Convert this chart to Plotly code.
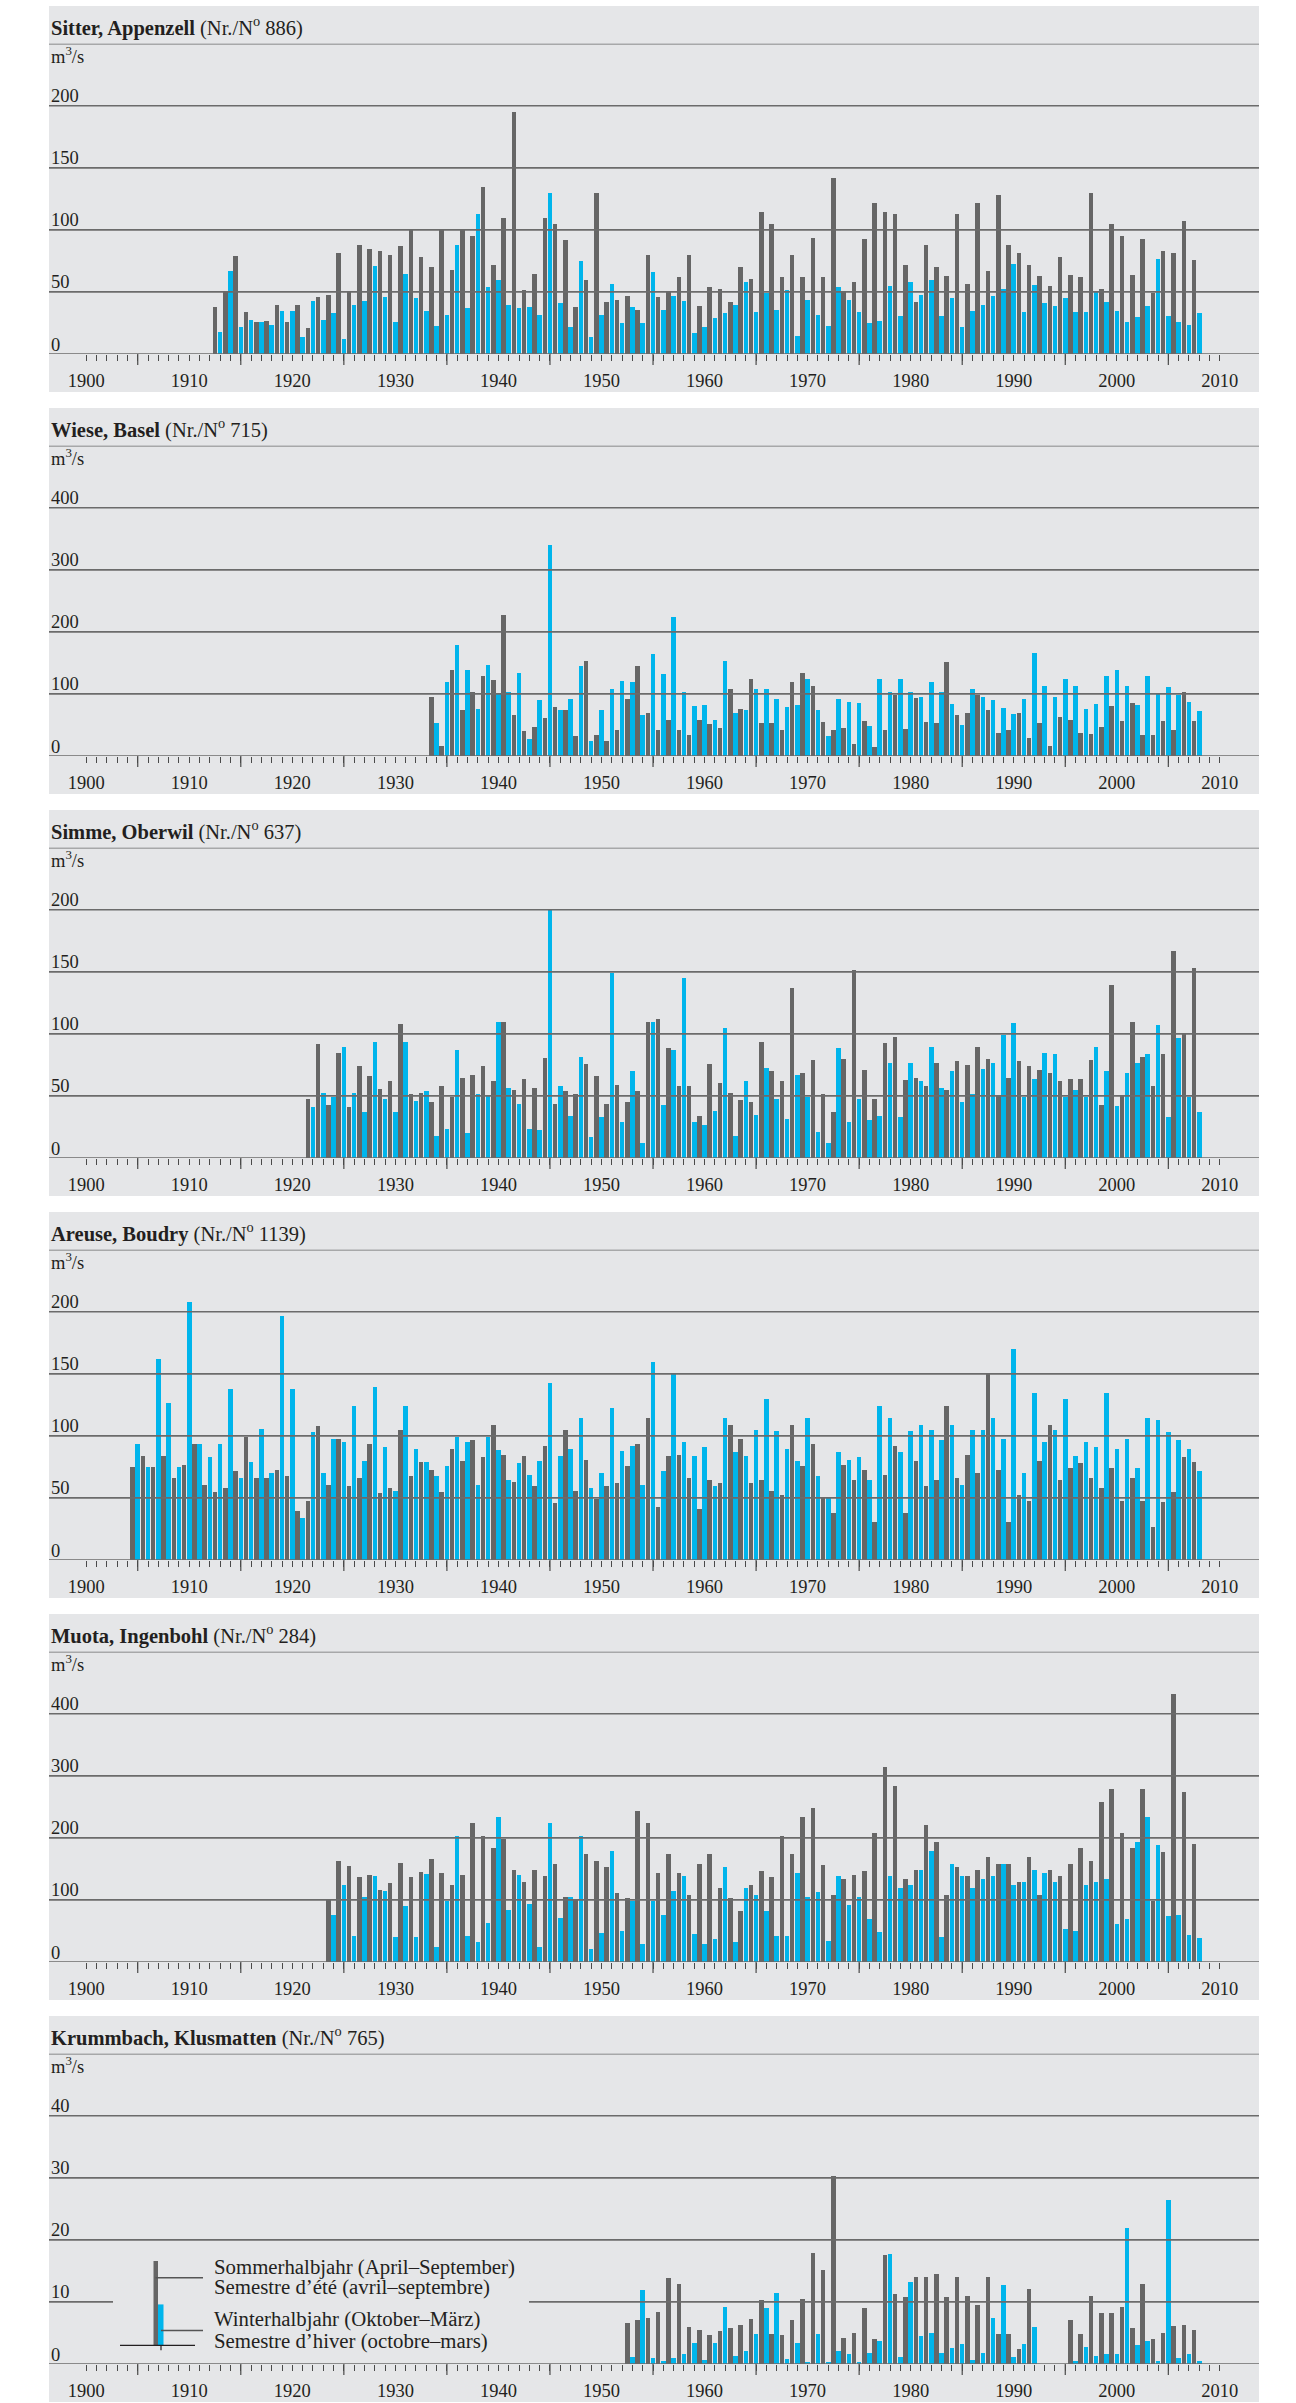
import plotly.graph_objects as go

# ---------------- data (m3/s), one value per hydrological year ----------------
# summer = April-September of the year, winter = October of the year to March of next
sitter_start = 1912
sitter_summer = [38, 51, 79, 34, 26, 27, 40, 26,
                 40, 21, 46, 48, 82, 50, 88, 85, 83, 80,
                 87, 100, 78, 70, 100, 68, 100, 95, 135, 72,
                 110, 195, 52, 65, 110, 105, 92, 38, 60, 130,
                 42, 44, 47, 36, 80, 46, 50, 62, 80, 39,
                 54, 53, 42, 70, 61, 115, 105, 62, 80, 62,
                 94, 62, 142, 50, 58, 93, 122, 115, 113, 72,
                 42, 88, 70, 63, 113, 57, 122, 67, 128, 88,
                 82, 72, 63, 55, 78, 64, 62, 130, 53, 105,
                 95, 64, 93, 49, 83, 82, 107, 76]
sitter_winter = [18, 67, 22, 28, 26, 24, 35, 35,
                 14, 43, 28, 33, 12, 40, 43, 71, 46, 26,
                 65, 45, 35, 23, 32, 88, 37, 113, 54, 60,
                 40, 37, 38, 32, 130, 41, 22, 75, 14, 32,
                 57, 25, 38, 25, 66, 36, 47, 43, 17, 22,
                 29, 33, 40, 58, 34, 49, 36, 52, 15, 44,
                 32, 23, 54, 44, 34, 25, 27, 55, 31, 58,
                 48, 60, 31, 45, 22, 35, 40, 47, 53, 73,
                 34, 56, 41, 39, 45, 34, 34, 50, 42, 35,
                 26, 30, 39, 77, 31, 26, 24, 33]

wiese_start = 1933
wiese_summer = [95, 17, 139, 74, 104, 129, 123,
                227, 66, 41, 48, 61, 79, 74, 33, 154, 35,
                25, 42, 92, 145, 70, 42, 59, 43, 34, 59,
                52, 45, 109, 76, 124, 53, 53, 43, 119, 134,
                114, 56, 42, 46, 20, 57, 15, 43, 99, 44,
                94, 55, 53, 152, 66, 70, 99, 74, 37, 42,
                70, 29, 53, 17, 63, 59, 38, 36, 48, 81,
                57, 86, 34, 34, 57, 42, 103, 57]
wiese_winter = [53, 119, 180, 139, 76, 147, 100,
                104, 134, 28, 91, 341, 74, 92, 145, 24, 74,
                109, 122, 119, 67, 165, 132, 225, 104, 81, 82,
                58, 154, 70, 75, 109, 109, 92, 80, 83, 124,
                74, 33, 92, 88, 86, 49, 124, 104, 124, 104,
                96, 119, 104, 84, 51, 109, 95, 91, 78, 68,
                92, 167, 114, 96, 124, 114, 76, 84, 129, 139,
                114, 83, 129, 100, 111, 99, 88, 73]

simme_start = 1921
simme_summer = [48, 92, 43, 85, 41, 74, 66, 56, 62,
                108, 52, 53, 45, 58, 49, 65, 67, 74, 62,
                110, 55, 64, 57, 81, 44, 54, 52, 76, 66,
                44, 59, 45, 54, 110, 112, 89, 58, 58, 34,
                76, 61, 53, 47, 45, 94, 70, 62, 137, 69,
                79, 52, 37, 80, 152, 71, 48, 93, 98, 63,
                65, 58, 77, 55, 78, 75, 90, 80, 51, 65,
                78, 74, 71, 69, 62, 64, 64, 79, 43, 140,
                51, 110, 82, 58, 84, 167, 101, 153]
simme_winter = [41, 53, 49, 90, 53, 37, 94, 48, 37,
                94, 46, 54, 18, 24, 87, 20, 52, 51, 110,
                57, 44, 24, 23, 200, 58, 34, 82, 17, 33,
                149, 29, 70, 12, 110, 43, 87, 145, 29, 27,
                38, 105, 18, 62, 35, 73, 48, 32, 67, 49,
                21, 12, 89, 29, 48, 31, 34, 77, 33, 77,
                62, 90, 57, 70, 45, 52, 72, 77, 99, 109,
                49, 64, 85, 84, 49, 55, 49, 90, 70, 42,
                69, 77, 84, 107, 33, 97, 49, 37]

areuse_start = 1904
areuse_summer = [75, 84, 75, 84, 66, 77,
                 94, 61, 55, 58, 72, 99, 66, 66, 73, 68,
                 40, 48, 108, 61, 98, 60, 66, 94, 54, 58,
                 105, 68, 79, 73, 55, 90, 80, 97, 83, 109,
                 85, 63, 84, 60, 92, 46, 105, 56, 81, 49,
                 60, 62, 76, 94, 115, 43, 84, 85, 66, 41,
                 65, 62, 109, 98, 62, 65, 56, 53, 109, 76,
                 94, 50, 38, 77, 65, 73, 31, 69, 92, 38,
                 80, 60, 65, 124, 66, 85, 70, 150, 73, 31,
                 53, 48, 80, 109, 65, 74, 78, 66, 58, 74,
                 48, 66, 48, 27, 47, 55, 83, 79]
areuse_winter = [94, 75, 162, 127, 75, 208,
                 94, 83, 94, 138, 66, 79, 106, 70, 197, 138,
                 34, 103, 70, 98, 95, 124, 80, 140, 91, 56,
                 124, 90, 79, 68, 76, 99, 95, 61, 99, 89,
                 65, 78, 69, 80, 143, 84, 90, 115, 58, 70,
                 123, 88, 92, 61, 160, 72, 150, 95, 84, 91,
                 60, 115, 87, 84, 105, 130, 104, 90, 80, 115,
                 68, 51, 87, 81, 83, 65, 124, 115, 87, 104,
                 109, 105, 97, 109, 61, 105, 105, 115, 98, 170,
                 70, 135, 95, 105, 130, 84, 95, 91, 135, 90,
                 98, 74, 115, 113, 103, 97, 90, 72]

muota_start = 1923
muota_summer = [101, 164, 155, 137, 140, 117, 128,
                160, 137, 145, 167, 144, 124, 141, 224, 204, 184,
                199, 149, 129, 149, 139, 159, 106, 101, 174, 164,
                154, 111, 104, 244, 224, 144, 174, 144, 109, 159,
                174, 119, 104, 83, 124, 147, 137, 204, 175, 234,
                249, 156, 109, 134, 141, 147, 209, 314, 284, 134,
                149, 221, 194, 109, 154, 139, 149, 169, 159, 159,
                129, 169, 109, 149, 139, 159, 184, 164, 259, 279,
                209, 184, 279, 99, 178, 433, 275, 190]
muota_winter = [76, 125, 43, 105, 139, 115, 41,
                90, 40, 143, 24, 98, 204, 42, 32, 64, 234,
                84, 141, 94, 25, 224, 72, 106, 204, 22, 47,
                179, 51, 99, 30, 99, 76, 115, 139, 46, 30,
                37, 154, 32, 119, 109, 82, 42, 42, 144, 105,
                114, 35, 139, 92, 105, 70, 49, 139, 119, 124,
                149, 179, 40, 159, 139, 119, 134, 139, 159, 124,
                129, 149, 144, 129, 54, 51, 124, 129, 134, 62,
                69, 194, 234, 189, 75, 76, 44, 39]

krumm_start = 1952
krumm_summer = [6.7, 7.1, 7.4, 8.4, 13.9, 12.9, 6.0, 5.5,
                4.8, 5.3, 5.8, 6.3, 7.3, 10.4, 4.9, 4.8, 7.1, 10.6,
                18.0, 15.2, 30.4, 4.2, 5.0, 9.1, 4.1, 17.6, 11.3, 10.9,
                14.0, 14.0, 14.6, 10.9, 14.0, 11.0, 9.6, 14.0, 4.9, 4.9,
                2.5, 12.2, None, None, None, 7.2, 4.9, 11.0, 8.3, 8.3,
                9.3, 5.9, 12.9, 4.1, 5.0, 6.1, 6.3, 5.6]
krumm_winter = [1.1, 11.9, 1.0, 0.5, 1.0, 1.7, 3.5, 0.7,
                3.5, 9.2, 1.4, 2.1, 4.9, 9.1, 11.5, 0.9, 3.5, 0.3,
                4.9, 0.3, 2.2, 1.7, 0.4, 1.8, 3.7, 17.7, 1.2, 13.2,
                4.6, 5.1, 1.8, 2.7, 3.2, 0.7, 1.8, 7.4, 12.8, 1.2,
                3.2, 6.0, None, None, None, 0.6, 2.8, 1.3, 1.6, 1.7,
                21.9, 3.1, 3.8, 0.5, 26.5, 1.0, 1.7, 0.5]

station_names = ["Sitter, Appenzell", "Wiese, Basel", "Simme, Oberwil",
                 "Areuse, Boudry", "Muota, Ingenbohl", "Krummbach, Klusmatten"]
station_numbers = ["886", "715", "637", "1139", "284", "765"]
station_starts = [sitter_start, wiese_start, simme_start, areuse_start, muota_start, krumm_start]
station_summer = [sitter_summer, wiese_summer, simme_summer, areuse_summer, muota_summer, krumm_summer]
station_winter = [sitter_winter, wiese_winter, simme_winter, areuse_winter, muota_winter, krumm_winter]
station_ymax = [250, 500, 250, 250, 500, 50]

decade_ticks = list(range(1900, 2011, 10))
decade_labels = [str(y) for y in decade_ticks]
year_ticks = [y for y in range(1900, 2011) if y % 10 != 0]
long_ticks = list(range(1905, 2010, 10))

legend_lines = ["Sommerhalbjahr (April–September)", "Semestre d’été (avril–septembre)",
                "Winterhalbjahr (Oktober–März)", "Semestre d’hiver (octobre–mars)"]

# ---------------- styling / layout ----------------
W, H = 1296, 2403
FONT = "Liberation Serif"
TXT = "#231f20"
GREY = "#666666"
CYAN = "#00b5ec"
BG = "#e5e6e8"
GRID = "#6b6b6b"
PL, PR = 49, 1259            # panel left / right (px)
X1900, PXY = 86.2, 10.306    # pixel of 1900, pixels per year
XR = [1900 + (PL - X1900) / PXY, 1900 + (PR - X1900) / PXY]
PSTEP = 402


def py(px):
    return 1 - px / H


def px_to_year(px):
    return 1900 + (px - X1900) / PXY


fig = go.Figure()
shapes, annotations = [], []
layout = {}

for k in range(6):
    s = "" if k == 0 else str(k + 1)
    top = 6 + PSTEP * k
    bottom = 392 + PSTEP * k
    zero = 354 + PSTEP * k
    topline = 43.7 + PSTEP * k
    ymax = station_ymax[k]
    dt = ymax / 5
    start = station_starts[k]
    summer = station_summer[k]
    winter = station_winter[k]
    years = list(range(start, start + len(summer)))

    fig.add_trace(go.Bar(x=[y + 0.5 for y in years], y=summer, width=0.44,
                         marker=dict(color=GREY, line=dict(width=0)),
                         xaxis="x" + s, yaxis="y" + s, showlegend=False,
                         name="Sommerhalbjahr"))
    fig.add_trace(go.Bar(x=[y + 1.0 for y in years], y=winter, width=0.44,
                         marker=dict(color=CYAN, line=dict(width=0)),
                         xaxis="x" + s, yaxis="y" + s, showlegend=False,
                         name="Winterhalbjahr"))

    layout["xaxis" + s] = dict(
        domain=[PL / W, PR / W], range=XR, anchor="y" + s,
        showgrid=False, zeroline=False, showline=False,
        tickmode="array", tickvals=decade_ticks, ticktext=decade_labels,
        ticks="outside", ticklen=6, tickwidth=1.2, tickcolor="#4a4a4a",
        ticklabelstandoff=4,
        tickfont=dict(family=FONT, size=18.5, color=TXT),
        minor=dict(tickmode="array", tickvals=year_ticks, ticks="outside",
                   ticklen=6, tickwidth=1.2, tickcolor="#4a4a4a"),
    )
    layout["yaxis" + s] = dict(
        domain=[py(zero), py(topline)], range=[0, ymax], anchor="x" + s,
        showgrid=False, zeroline=False, showline=False, showticklabels=False,
        ticks="",
    )

    # panel background
    shapes.append(dict(type="rect", xref="paper", yref="paper",
                       x0=PL / W, x1=PR / W, y0=py(bottom), y1=py(top),
                       fillcolor=BG, line=dict(width=0), layer="below"))
    # horizontal grid lines
    for i in range(6):
        v = i * dt
        segs = [(PL, PR)]
        if k == 5 and i == 1:
            segs = [(PL, 113), (529, PR)]
        for a, b in segs:
            shapes.append(dict(type="line", xref="paper", yref="y" + s,
                               x0=a / W, x1=b / W, y0=v, y1=v,
                               line=dict(color=GRID, width=1.7), layer="above"))
    # long ticks at half decades
    for yr in long_ticks:
        shapes.append(dict(type="line", xref="x" + s, yref="paper",
                           x0=yr, x1=yr, y0=py(zero), y1=py(zero + 11),
                           line=dict(color="#4a4a4a", width=1.2)))
    # y labels
    for i in range(5):
        v = i * dt
        annotations.append(dict(text=str(int(v)), xref="paper", x=PL / W, xanchor="left",
                                yref="y" + s, y=v, yanchor="middle", yshift=9.5,
                                showarrow=False, font=dict(family=FONT, size=18.5, color=TXT)))
    annotations.append(dict(text="m<sup>3</sup>/s", xref="paper", x=PL / W, xanchor="left",
                            yref="y" + s, y=ymax, yanchor="middle", yshift=-11.5,
                            showarrow=False, font=dict(family=FONT, size=18.5, color=TXT)))
    annotations.append(dict(text="<b>%s</b> (Nr./N<sup>o</sup> %s)" % (station_names[k], station_numbers[k]),
                            xref="paper", x=PL / W, xanchor="left",
                            yref="y" + s, y=ymax, yanchor="middle", yshift=17.5,
                            showarrow=False, font=dict(family=FONT, size=20.5, color=TXT)))

# ---------------- legend key inside the last panel ----------------
yl = "y6"
xl = "x6"
shapes += [
    dict(type="rect", xref=xl, yref=yl, x0=px_to_year(153.5), x1=px_to_year(158),
         y0=3.0, y1=16.6, fillcolor=GREY, line=dict(width=0)),
    dict(type="rect", xref=xl, yref=yl, x0=px_to_year(158), x1=px_to_year(163.5),
         y0=3.0, y1=9.6, fillcolor=CYAN, line=dict(width=0)),
    dict(type="line", xref=xl, yref=yl, x0=px_to_year(120), x1=px_to_year(195),
         y0=3.0, y1=3.0, line=dict(color=TXT, width=1.3)),
    dict(type="line", xref=xl, yref=yl, x0=px_to_year(155.6), x1=px_to_year(203),
         y0=13.9, y1=13.9, line=dict(color="#555555", width=1.3)),
    dict(type="line", xref=xl, yref=yl, x0=px_to_year(161), x1=px_to_year(203),
         y0=5.4, y1=5.4, line=dict(color="#555555", width=1.3)),
    dict(type="line", xref=xl, yref=yl, x0=px_to_year(161), x1=px_to_year(161),
         y0=3.0, y1=2.2, line=dict(color=TXT, width=1.2)),
]
for txt, v in zip(legend_lines, [15.7, 12.4, 7.25, 3.75]):
    annotations.append(dict(text=txt, xref=xl, x=px_to_year(211.6), xanchor="left",
                            yref=yl, y=v, yanchor="middle", showarrow=False,
                            font=dict(family=FONT, size=20.8, color=TXT)))

fig.update_layout(
    width=W, height=H, margin=dict(l=0, r=0, t=0, b=0),
    paper_bgcolor="white", plot_bgcolor="rgba(0,0,0,0)",
    barmode="overlay", bargap=0, showlegend=False,
    shapes=shapes, annotations=annotations,
    font=dict(family=FONT, color=TXT),
    **layout,
)

fig.write_html("out.html", config={"displayModeBar": False},
               post_script="document.body.style.margin='0';")
